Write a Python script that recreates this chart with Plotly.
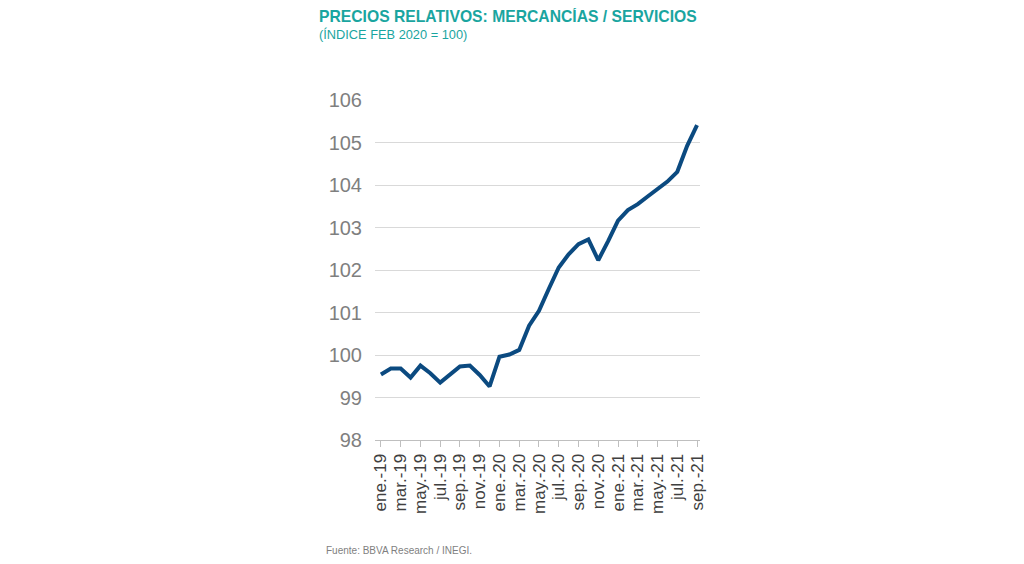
import plotly.graph_objects as go

months = ["ene.-19","feb.-19","mar.-19","abr.-19","may.-19","jun.-19","jul.-19","ago.-19","sep.-19","oct.-19","nov.-19","dic.-19",
          "ene.-20","feb.-20","mar.-20","abr.-20","may.-20","jun.-20","jul.-20","ago.-20","sep.-20","oct.-20","nov.-20","dic.-20",
          "ene.-21","feb.-21","mar.-21","abr.-21","may.-21","jun.-21","jul.-21","ago.-21","sep.-21"]
values = [99.54,99.68,99.68,99.47,99.75,99.57,99.35,99.55,99.73,99.75,99.53,99.26,
          99.96,100.01,100.12,100.69,101.04,101.56,102.06,102.37,102.61,102.72,102.23,102.68,
          103.16,103.41,103.55,103.73,103.90,104.08,104.31,104.92,105.41]
tick_labels = months[::2]
y_ticks = [98,99,100,101,102,103,104,105,106]

fig = go.Figure(go.Scatter(x=list(range(len(months))), y=values, mode="lines",
                           line=dict(color="#0B4A80", width=4), hoverinfo="skip"))
fig.update_layout(
    width=1024, height=564, plot_bgcolor="white", paper_bgcolor="white",
    margin=dict(l=367, r=332, t=92, b=132), showlegend=False,
    font=dict(family="Arial, Liberation Sans", color="#595959"),
)
fig.update_xaxes(range=[-0.6, 32.3], tickmode="array", tickvals=list(range(0, len(months), 2)),
                 ticktext=tick_labels, tickangle=-90, tickfont=dict(size=17, color="#404040"),
                 showgrid=False, showline=True, linecolor="#BFBFBF", ticks="outside",
                 tickcolor="#BFBFBF", ticklen=6, zeroline=False)
fig.update_yaxes(range=[98, 106], tickvals=y_ticks, tickfont=dict(size=20, color="#7F7F7F"),
                 showgrid=True, gridcolor="#D9D9D9", zeroline=False, ticks="", ticklabelstandoff=12)
fig.add_annotation(xref="paper", yref="paper", x=-0.17, y=1.0, yshift=73, xshift=-3, xanchor="left", yanchor="bottom",
                   text="<b>PRECIOS RELATIVOS: MERCANCÍAS / SERVICIOS</b>", showarrow=False,
                   font=dict(size=15.7, color="#1AA5A0"))
fig.add_annotation(xref="paper", yref="paper", x=-0.17, y=1.0, yshift=56, xshift=-3, xanchor="left", yanchor="bottom",
                   text="(ÍNDICE FEB 2020 = 100)", showarrow=False, font=dict(size=12.8, color="#1AA5A0"))
fig.add_annotation(xref="paper", yref="paper", x=-0.17, y=0, yshift=-118, xshift=4, xanchor="left", yanchor="bottom",
                   text="Fuente: BBVA Research / INEGI.", showarrow=False, font=dict(size=10, color="#7F7F7F"))
fig.write_html("out.html")
